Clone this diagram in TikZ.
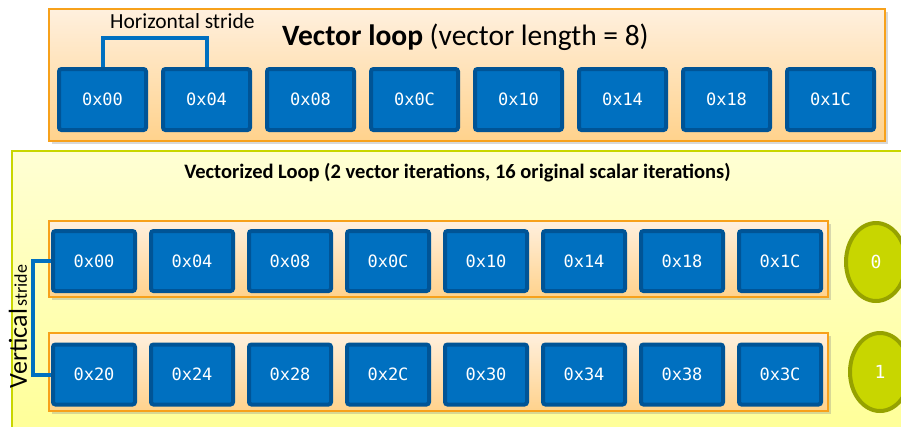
\documentclass[tikz,border=0pt]{standalone}
\usepackage{fontspec}
\setmainfont{Carlito}
\setmonofont{DejaVu Sans Mono}
\usetikzlibrary{positioning, shadows, shapes.geometric}
\definecolor{cellBlue}{RGB}{0,112,192}
\definecolor{cellEdge}{RGB}{0,84,150}
\definecolor{strideBlue}{RGB}{0,112,192}
\definecolor{laneEdge}{RGB}{247,161,27}
\definecolor{laneTop}{RGB}{255,240,222}
\definecolor{laneBottom}{RGB}{255,210,140}
\definecolor{loopTop}{RGB}{255,255,212}
\definecolor{loopBottom}{RGB}{255,255,150}
\definecolor{loopEdge}{RGB}{200,214,0}
\definecolor{iterFill}{RGB}{200,214,0}
\definecolor{iterEdge}{RGB}{150,162,0}

\begin{document}
\begin{tikzpicture}[
    x=1pt, y=-1pt,
    every node/.style={inner sep=0pt},
    cell/.style={rectangle, draw=cellEdge, fill=cellBlue, line width=4pt, rounded corners=2.5pt, minimum width=#1, text=white, font=\fontsize{17}{19}\selectfont\ttfamily},
    cell/.default={87pt},
    topcell/.style={cell=87pt, minimum height=61pt},
    rowcell/.style={cell=82pt, minimum height=60pt},
    lane/.style={rectangle, draw=laneEdge, line width=2pt, top color=laneTop, bottom color=laneBottom, drop shadow={shadow xshift=3pt, shadow yshift=-3pt, opacity=0.3, fill=gray}},
    loopbox/.style={rectangle, draw=loopEdge, line width=2pt, top color=loopTop, bottom color=loopBottom},
    iterbadge/.style={ellipse, draw=iterEdge, fill=iterFill, line width=4pt, minimum width=60pt, minimum height=78pt, text=white, font=\fontsize{18}{20}\selectfont\ttfamily},
    stride/.style={draw=strideBlue, line width=4pt}
]
\fill[white] (0,0) rectangle (901,426);
\useasboundingbox (0,0) rectangle (901,426);

% Outer vectorized loop
\node[loopbox, anchor=north west, minimum width=900pt, minimum height=290pt] (vecLoop) at (11,150) {};
\node[font=\fontsize{20.5}{24}\selectfont\bfseries, anchor=base] (loopTitle) at (457.5,178) {Vectorized Loop (2 vector iterations, 16 original scalar iterations)};

% Top: vector loop
\node[lane, minimum width=836pt, minimum height=132pt] (vecLane) at (467,75) {};
\node[font=\fontsize{29.5}{34}\selectfont, anchor=base west] (vecTitle) at (282,45) {\textbf{Vector loop} (vector length = 8)};
\node[font=\fontsize{21.5}{25}\selectfont, anchor=base west] (hLabel) at (110,28) {Horizontal stride};

\node[topcell] (a0) at (102.5,99.5) {0x00};
\node[topcell, right=13pt of a0] (a1) {0x04};
\node[topcell, right=13pt of a1] (a2) {0x08};
\node[topcell, right=13pt of a2] (a3) {0x0C};
\node[topcell, right=13pt of a3] (a4) {0x10};
\node[topcell, right=13pt of a4] (a5) {0x14};
\node[topcell, right=13pt of a5] (a6) {0x18};
\node[topcell, right=13pt of a6] (a7) {0x1C};

% Iteration 0
\node[lane, minimum width=779pt, minimum height=76pt] (laneB) at (438.5,259) {};
\node[rowcell] (b0) at (94,261) {0x00};
\node[rowcell, right=12pt of b0] (b1) {0x04};
\node[rowcell, right=12pt of b1] (b2) {0x08};
\node[rowcell, right=12pt of b2] (b3) {0x0C};
\node[rowcell, right=12pt of b3] (b4) {0x10};
\node[rowcell, right=12pt of b4] (b5) {0x14};
\node[rowcell, right=12pt of b5] (b6) {0x18};
\node[rowcell, right=12pt of b6] (b7) {0x1C};
\node[iterbadge] (iter0) at (876,262) {0};

% Iteration 1
\node[lane, minimum width=779pt, minimum height=78pt] (laneC) at (438.5,372) {};
\node[rowcell] (c0) at (94,374.5) {0x20};
\node[rowcell, right=12pt of c0] (c1) {0x24};
\node[rowcell, right=12pt of c1] (c2) {0x28};
\node[rowcell, right=12pt of c2] (c3) {0x2C};
\node[rowcell, right=12pt of c3] (c4) {0x30};
\node[rowcell, right=12pt of c4] (c5) {0x34};
\node[rowcell, right=12pt of c5] (c6) {0x38};
\node[rowcell, right=12pt of c6] (c7) {0x3C};
\node[iterbadge] (iter1) at (880,372) {1};

% Strides
\draw[stride] (a0.north) -- ++(0,-29) -| (a1.north);
\draw[stride] (b0.west) -- ++(-18,0) |- (c0.west);
\node[rotate=90, anchor=base] (vLabel) at (27,326.5) {{\fontsize{26}{30}\selectfont Vertical} {\fontsize{18}{21}\selectfont stride}};

\end{tikzpicture}
\end{document}
